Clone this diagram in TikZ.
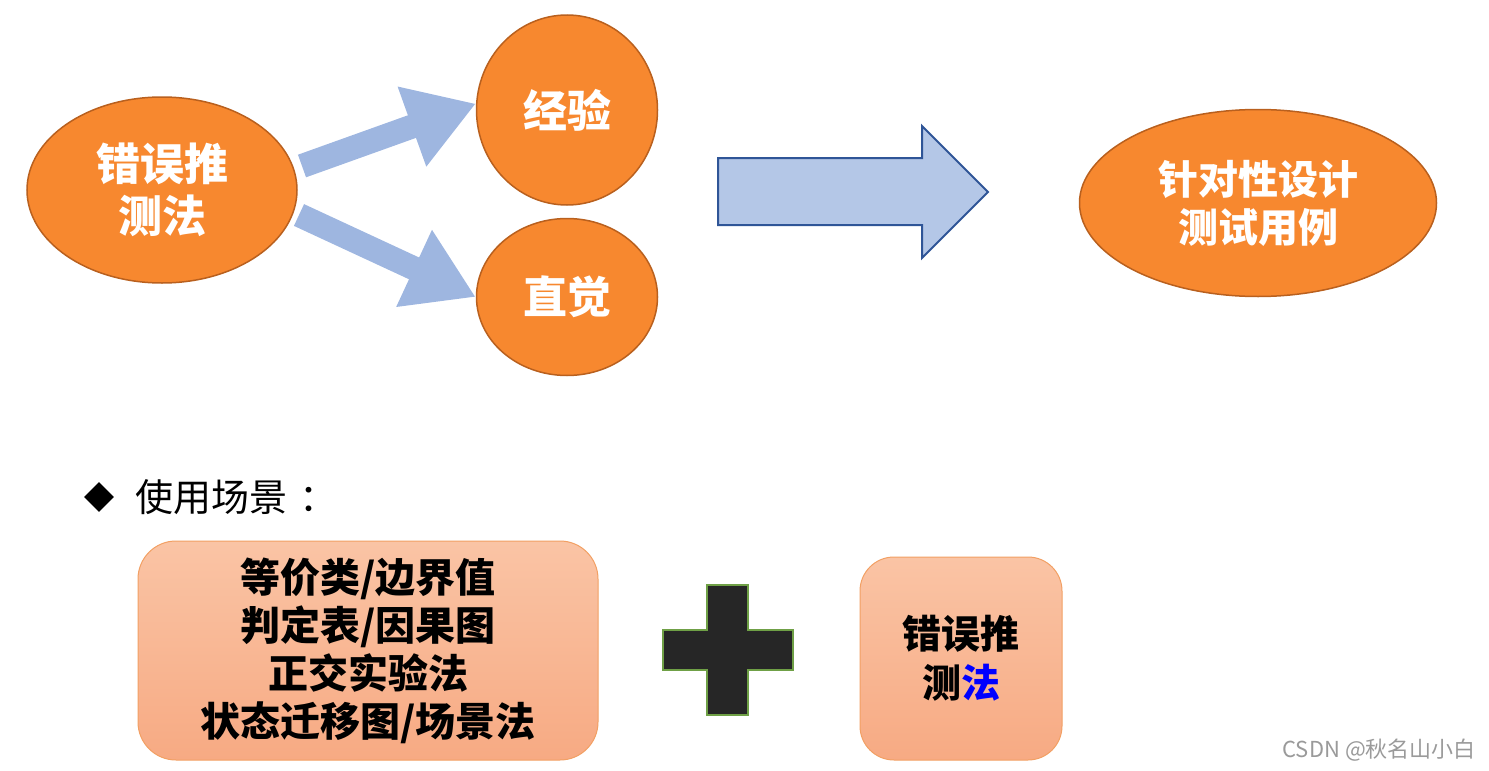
\documentclass[tikz,border=0pt]{standalone}
\usepackage{fontspec}
\setmainfont{Noto Sans CJK SC}
\usetikzlibrary{shapes.geometric,arrows.meta}
\definecolor{ofill}{HTML}{F7882F}
\definecolor{oline}{HTML}{B9601E}
\definecolor{ablue}{HTML}{9EB6E0}
\definecolor{bfill}{HTML}{B4C7E7}
\definecolor{bline}{HTML}{2F5597}
\definecolor{ptop}{HTML}{FAC4A5}
\definecolor{pbot}{HTML}{F7AA83}
\definecolor{pline}{HTML}{F2A064}
\definecolor{plusfill}{HTML}{262626}
\definecolor{plusline}{HTML}{6FA046}
\definecolor{wm}{HTML}{9A9A9A}
\tikzset{
  oell/.style={ellipse, fill=ofill, draw=oline, line width=1.5pt, text=white, align=center, inner sep=0pt},
  fatarrow/.style={draw=ablue, line width=24pt, -{Triangle[width=80pt 0,length=68pt 0]}},
  pbox/.style={rounded corners=38pt, top color=ptop, bottom color=pbot, draw=pline, line width=1pt, align=center, inner sep=0pt},
}
\begin{document}
\begin{tikzpicture}[x=1pt,y=-1pt]
\useasboundingbox (0,0) rectangle (1489,771);
% top ellipses
\node[oell, minimum width=270pt, minimum height=186pt, font={\fontsize{44}{52}\selectfont\bfseries}] (err) at (162,190) {错误推\\测法};
\node[oell, minimum width=181pt, minimum height=190pt, font={\fontsize{44}{52}\selectfont\bfseries}] (jy) at (567,110) {经验};
\node[oell, minimum width=181pt, minimum height=157pt, font={\fontsize{44}{52}\selectfont\bfseries}] (zj) at (567,297) {直觉};
\node[oell, minimum width=357pt, minimum height=187pt, font={\fontsize{40}{48}\selectfont\bfseries}] (res) at (1258,203) {针对性设计\\测试用例};
% fat arrows
\coordinate (t1) at (302,166);
\coordinate (t2) at (299,215);
\draw[fatarrow] (t1) -- (jy.176);
\draw[fatarrow] (t2) -- (zj.west);
% big arrow
\draw[fill=bfill, draw=bline, line width=2pt, line join=miter]
  (718,158) -- (922,158) -- (922,126) -- (988,192) -- (922,258) -- (922,225) -- (718,225) -- cycle;
% usage
\node[diamond, fill=black, minimum width=30pt, minimum height=30pt, inner sep=0pt] (bul) at (99,497) {};
\node[anchor=west, font={\fontsize{38}{44}\selectfont}, inner sep=0pt] (use) at (135,497) {使用场景\hspace{12pt}：};
\node[pbox, minimum width=460pt, minimum height=219pt, font={\fontsize{40}{48}\selectfont\bfseries}] (box1) at (368,650.5)
  {等价类/边界值\\判定表/因果图\\正交实验法\\状态迁移图/场景法};
% plus
\draw[fill=plusfill, draw=plusline, line width=2.5pt]
  (707,585) -- (748,585) -- (748,630) -- (793,630) -- (793,670) -- (748,670) -- (748,715) -- (707,715) -- (707,670) -- (663,670) -- (663,630) -- (707,630) -- cycle;
\node[pbox, rounded corners=34pt, minimum width=202pt, minimum height=203pt, font={\fontsize{39}{49}\selectfont\bfseries}] (box2) at (961,658.5)
  {错误推\\测\textcolor{blue}{法}};
% watermark
\node[anchor=east, text=wm, font={\fontsize{22}{24}\selectfont}, inner sep=0pt] (wmk) at (1476,750) {CSDN @秋名山小白};
\end{tikzpicture}
\end{document}
